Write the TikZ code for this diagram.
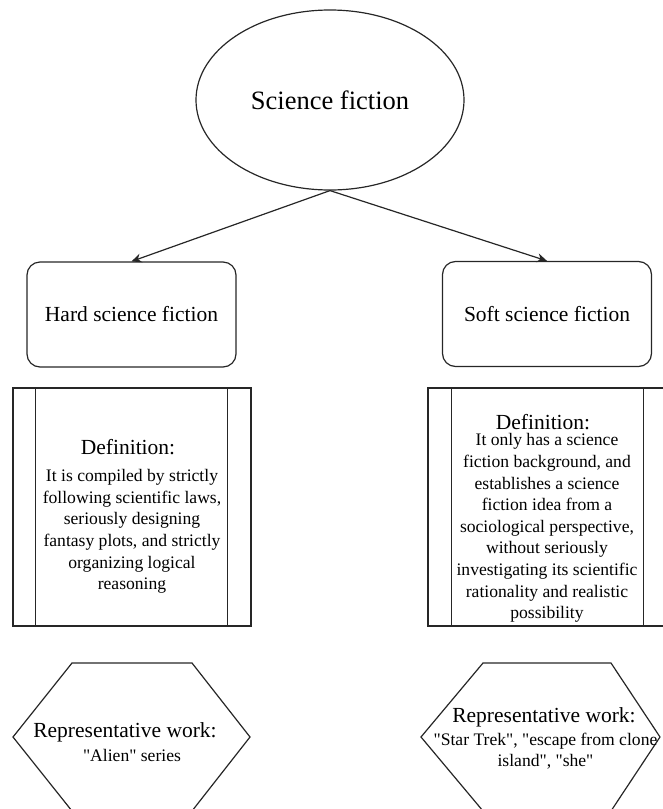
\documentclass[tikz,border=0pt]{standalone}
\usepackage{fontspec}
\setmainfont{Liberation Serif}
\usetikzlibrary{shapes.geometric,arrows.meta}
\newcommand\sq{\textquotedbl}
\tikzset{
  line/.style={draw=black!85, line width=1.2pt},
  conn/.style={line, -{Stealth[length=10pt,width=9pt]}},
  catbox/.style={line, rounded corners=13pt, minimum width=209pt, minimum height=105pt, inner sep=0pt, font=\fontsize{21.5}{26}\selectfont},
  procbox/.style={line, minimum width=238pt, minimum height=238pt, inner sep=0pt},
  ttl/.style={font=\fontsize{21.5}{26}\selectfont, inner sep=0pt},
  body/.style={font=\fontsize{17.6}{21.6}\selectfont, align=center, inner sep=0pt},
}
\begin{document}
\begin{tikzpicture}[x=1pt,y=-1pt]
\useasboundingbox (0,0) rectangle (662,809);
% root
\node[line, ellipse, minimum width=268pt, minimum height=180pt, inner sep=0pt,
      font=\fontsize{26.5}{32}\selectfont] (sf) at (330,100) {Science fiction};
% categories
\node[catbox] (hard) at (131.5,314.5) {Hard science fiction};
\node[catbox] (soft) at (547,314) {Soft science fiction};
\draw[conn] (sf.south) -- (hard.north);
\draw[conn] (sf.south) -- (soft.north);
% definition boxes
\node[procbox] (def1) at (132,507) {};
\draw[line] ([xshift=23pt]def1.north west) -- ([xshift=23pt]def1.south west);
\draw[line] ([xshift=-24pt]def1.north east) -- ([xshift=-24pt]def1.south east);
\node[procbox, minimum width=239pt] (def2) at (547.5,507) {};
\draw[line] ([xshift=24pt]def2.north west) -- ([xshift=24pt]def2.south west);
\draw[line] ([xshift=-24pt]def2.north east) -- ([xshift=-24pt]def2.south east);
\node[ttl] (def1t) at (128,447) {Definition:};
\node[body] (def1b) at (132,531.5) {It is compiled by strictly\\following scientific laws,\\seriously designing\\fantasy plots, and strictly\\organizing logical\\reasoning};
\node[ttl] (def2t) at (543,422) {Definition:};
\node[body] (def2b) at (547,528) {It only has a science\\fiction background, and\\establishes a science\\fiction idea from a\\sociological perspective,\\without seriously\\investigating its scientific\\rationality and realistic\\possibility};
% representative works
\draw[line] (13,737) -- (72,663) -- (192,663) -- (250,737) -- (192,811) -- (72,811) -- cycle;
\draw[line] (421,737) -- (483,663) -- (611,663) -- (660,737) -- (611,811) -- (483,811) -- cycle;
\node[ttl] (rep1t) at (125,732) {Representative work:};
\node[body] (rep1b) at (132,755) {\sq Alien\sq{} series};
\node[ttl] (rep2t) at (544,717) {Representative work:};
\node[body] (rep2b) at (545.5,751) {\sq Star Trek\sq, \sq escape from clone\\island\sq, \sq she\sq};
\end{tikzpicture}
\end{document}
